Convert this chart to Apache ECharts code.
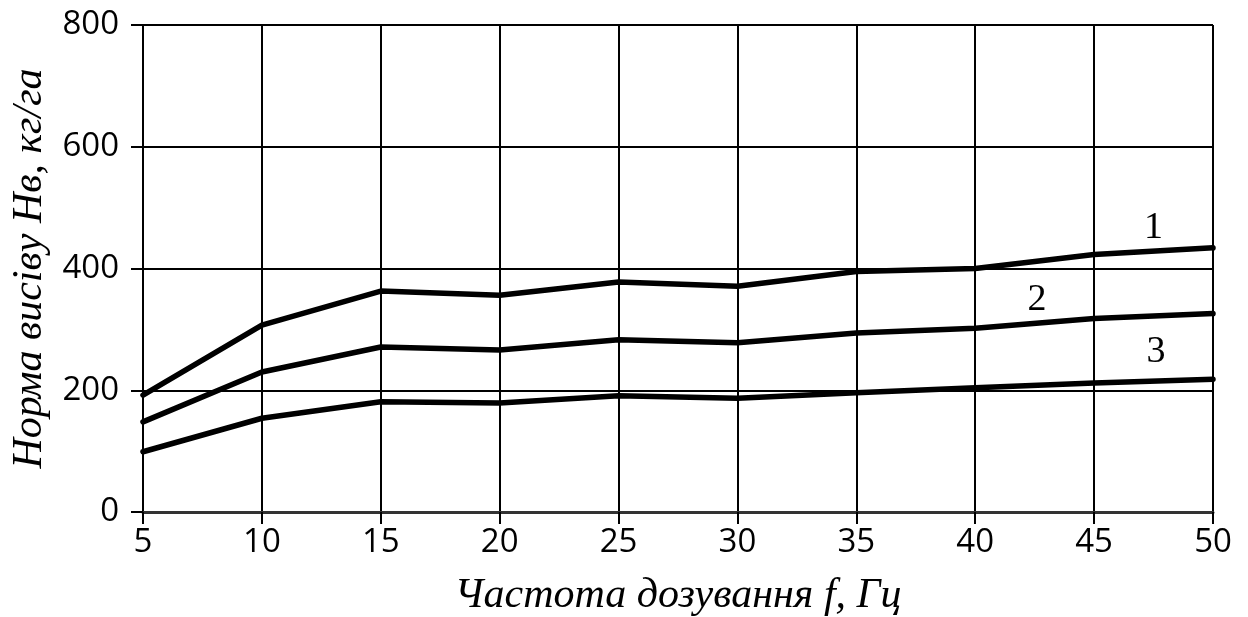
<!DOCTYPE html>
<html>
<head>
<meta charset="utf-8">
<script src="https://cdn.jsdelivr.net/npm/echarts@6/dist/echarts.min.js"></script>
<style>html,body{margin:0;padding:0;background:#fff}#c{width:1248px;height:617px}</style>
</head>
<body>
<div id="c"></div>
<script>
const freq = [5, 10, 15, 20, 25, 30, 35, 40, 45, 50];
const curve1 = [192, 307, 363, 356, 378, 371, 395, 400, 423, 434];
const curve2 = [148, 230, 271, 266, 283, 278, 294, 302, 318, 326];
const curve3 = [99, 154, 181, 179, 191, 187, 196, 204, 212, 218];
const curveNames = ['1', '2', '3'];
const labelAt = [[47.5, 467], [42.6, 348], [47.6, 263]];

const chart = echarts.init(document.getElementById('c'));
const serif = '"Liberation Serif", "DejaVu Serif", serif';
const sans = '"Open Sans", "Liberation Sans", sans-serif';
function mk(vals, i) {
  return {
    type: 'line',
    data: freq.map((f, k) => [f, vals[k]]),
    symbol: 'none',
    smooth: false,
    lineStyle: { color: '#000', width: 5.5, cap: 'round', join: 'round' },
    z: 5,
    markPoint: {
      symbol: 'circle', symbolSize: 1,
      itemStyle: { color: 'rgba(0,0,0,0)' },
      label: { show: true, position: 'inside', formatter: curveNames[i], fontFamily: serif, fontSize: 38, color: '#000' },
      data: [{ coord: labelAt[i], value: curveNames[i] }]
    }
  };
}
chart.setOption({
  animation: false,
  grid: { left: 143, right: 35, top: 25, bottom: 105, outerBoundsMode: 'none', containLabel: false },
  xAxis: {
    type: 'value', min: 5, max: 50, interval: 5,
    name: 'Частота дозування f, Гц', nameLocation: 'middle', nameGap: 63,
    nameTextStyle: { fontFamily: serif, fontStyle: 'italic', fontSize: 42, color: '#000' },
    axisLine: { show: true, lineStyle: { color: '#333', width: 3 } },
    axisTick: { show: true, length: 12, lineStyle: { color: '#000', width: 2 } },
    axisLabel: { margin: 14, fontFamily: sans, fontSize: 33, color: '#000' },
    splitLine: { show: true, lineStyle: { color: '#000', width: 2 } }
  },
  yAxis: {
    type: 'value', min: 0, max: 800, interval: 200,
    name: 'Норма висіву Нв, кг/га', nameLocation: 'middle', nameGap: 92,
    nameTextStyle: { fontFamily: serif, fontStyle: 'italic', fontSize: 42, color: '#000' },
    axisLine: { show: true, lineStyle: { color: '#000', width: 2 } },
    axisTick: { show: true, length: 12, lineStyle: { color: '#000', width: 2 } },
    axisLabel: { margin: 24, fontFamily: sans, fontSize: 33, color: '#000' },
    splitLine: { show: true, lineStyle: { color: '#000', width: 2 } }
  },
  series: [mk(curve1, 0), mk(curve2, 1), mk(curve3, 2)]
});
</script>
</body>
</html>
